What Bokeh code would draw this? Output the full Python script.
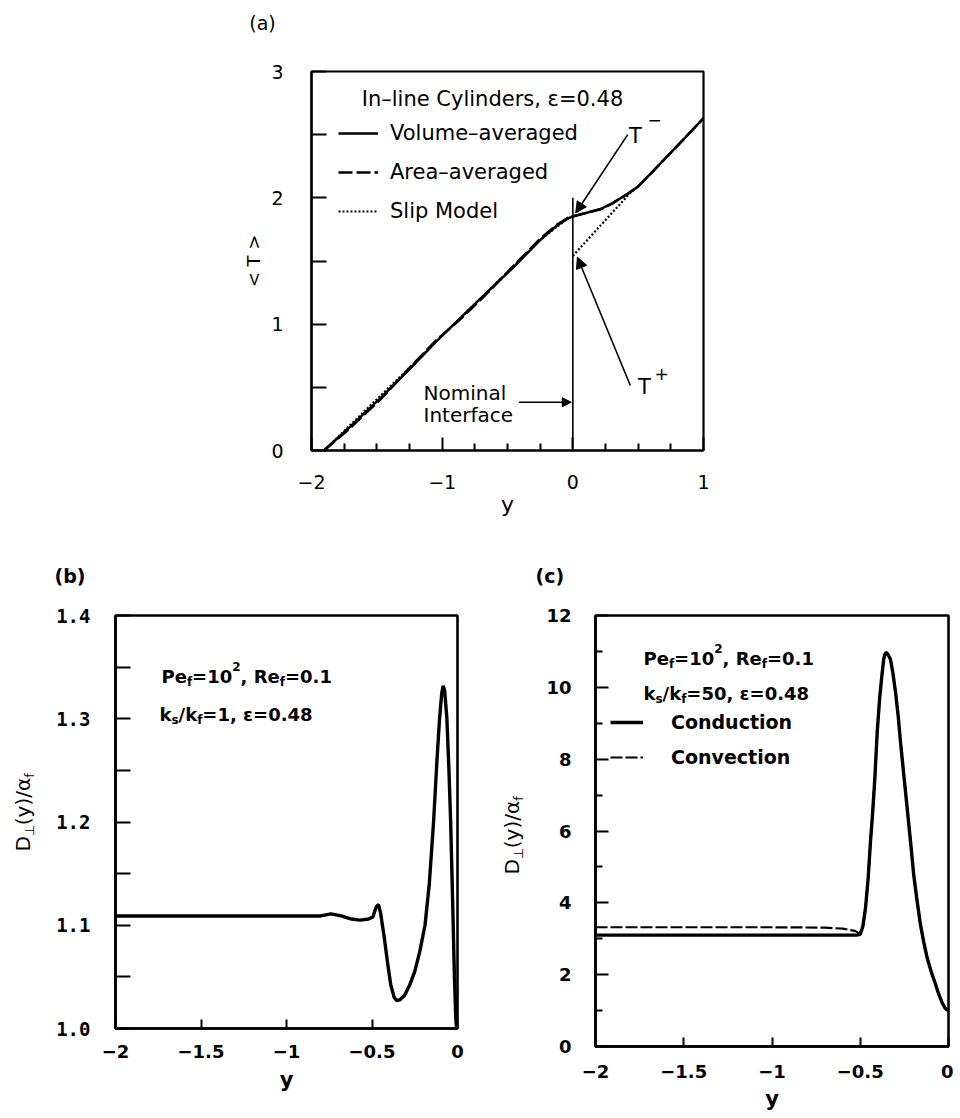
import math
from bokeh.plotting import figure
from bokeh.models import (Range1d, Label, Arrow, NormalHead, Legend, LegendItem,
                          FixedTicker, Spacer)
from bokeh.layouts import column, row
from bokeh.embed import file_html
from bokeh.resources import INLINE

# ---------------- data: panel (a) ----------------
a_y = [-1.905, -1.713, -1.467, -1.243, -1.048, -0.86, -0.679, -0.474, -0.245,
       -0.117, -0.04, 0.0, 0.1, 0.214, 0.3, 0.418, 0.5, 0.622, 0.826, 1.0]
a_volume_T = [0.0, 0.18, 0.42, 0.65, 0.86, 1.05, 1.23, 1.43, 1.67,
              1.785, 1.835, 1.853, 1.88, 1.913, 1.955, 2.03, 2.09, 2.22, 2.44, 2.63]
a_area_T = [0.0, 0.17, 0.41, 0.66, 0.87, 1.04, 1.22, 1.44, 1.68,
            1.79, 1.84, 1.853, 1.88, 1.91, 1.955, 2.03, 2.09, 2.22, 2.44, 2.63]
a_slip_porous_y = [-1.905, -1.048, -0.245, -0.04, 0.0]
a_slip_porous_T = [0.0, 0.86, 1.67, 1.835, 1.853]
a_slip_fluid_y = [0.0, 0.22, 0.44, 0.5, 0.622, 0.826, 1.0]
a_slip_fluid_T = [1.54, 1.79, 2.04, 2.09, 2.22, 2.44, 2.63]
a_interface_y = [0.0]
a_interface_T0 = [0.0]
a_interface_T1 = [2.0]
a_series = ["Volume–averaged", "Area–averaged", "Slip Model"]
a_x_ticks = [-2, -1, 0, 1]
a_x_tick_labels = ["−2", "−1", "0", "1"]
a_x_minor = [-1.75, -1.5, -1.25, -0.75, -0.5, -0.25, 0.25, 0.5, 0.75]
a_y_ticks = [0, 1, 2, 3]
a_y_tick_labels = ["0", "1", "2", "3"]
a_y_minor = [0.5, 1.5, 2.5]

# ---------------- data: panel (b) ----------------
b_y = [-2.0, -1.0, -0.80, -0.74, -0.68, -0.62, -0.57, -0.52, -0.495, -0.475,
       -0.462, -0.45, -0.43, -0.41, -0.39, -0.37, -0.355, -0.335, -0.31, -0.28,
       -0.25, -0.22, -0.19, -0.165, -0.14, -0.12, -0.105, -0.092, -0.084, -0.075,
       -0.062, -0.05, -0.04, -0.028, -0.018, -0.01, -0.005]
b_D = [1.109, 1.109, 1.109, 1.111, 1.109, 1.106, 1.105, 1.106, 1.108, 1.118,
       1.12, 1.112, 1.09, 1.065, 1.042, 1.03, 1.027, 1.028, 1.032, 1.042,
       1.055, 1.075, 1.10, 1.14, 1.20, 1.26, 1.30, 1.325, 1.332, 1.327,
       1.30, 1.25, 1.20, 1.12, 1.05, 1.01, 1.0]
b_x_ticks = [-2, -1.5, -1, -0.5, 0]
b_x_tick_labels = ["−2", "−1.5", "−1", "−0.5", "0"]
b_y_ticks = [1.0, 1.1, 1.2, 1.3, 1.4]
b_y_tick_labels = ["1.0", "1.1", "1.2", "1.3", "1.4"]
b_y_minor = [1.05, 1.15, 1.25, 1.35]

# ---------------- data: panel (c) ----------------
c_y = [-2.0, -1.0, -0.52, -0.50, -0.485, -0.47, -0.455, -0.442, -0.43, -0.418,
       -0.404, -0.39, -0.378, -0.367, -0.36, -0.353, -0.345, -0.337, -0.329,
       -0.315, -0.30, -0.285, -0.272, -0.253, -0.234, -0.215, -0.197, -0.178,
       -0.159, -0.14, -0.121, -0.098, -0.074, -0.055, -0.036, -0.02, -0.008, 0.0]
c_conduction = [3.1, 3.1, 3.1, 3.12, 3.35, 3.86, 4.7, 5.71, 6.5, 7.4,
                8.75, 9.7, 10.3, 10.79, 10.92, 10.97, 10.93, 10.86, 10.78,
                10.4, 9.86, 9.2, 8.48, 7.55, 6.63, 5.7, 4.78, 4.05,
                3.40, 2.9, 2.47, 2.08, 1.74, 1.45, 1.22, 1.07, 1.02, 1.01]
c_conv_y = [-2.0, -1.0, -0.7, -0.6, -0.53, -0.505, -0.485, -0.47, -0.455, -0.442,
            -0.43, -0.418, -0.404, -0.39, -0.378, -0.367, -0.36, -0.353, -0.345,
            -0.337, -0.329, -0.315, -0.30, -0.285, -0.272, -0.253, -0.234, -0.215,
            -0.197, -0.178, -0.159, -0.14, -0.121, -0.098, -0.074, -0.055, -0.036,
            -0.02, -0.008, 0.0]
c_convection = [3.32, 3.32, 3.31, 3.28, 3.22, 3.15, 3.35, 3.86, 4.7, 5.71,
                6.5, 7.4, 8.75, 9.7, 10.3, 10.79, 10.92, 10.97, 10.93,
                10.86, 10.78, 10.4, 9.86, 9.2, 8.48, 7.55, 6.63, 5.7,
                4.78, 4.05, 3.40, 2.9, 2.47, 2.08, 1.74, 1.45, 1.22,
                1.07, 1.02, 1.01]
c_series = ["Conduction", "Convection"]
c_x_ticks = [-2, -1.5, -1, -0.5, 0]
c_x_tick_labels = ["−2", "−1.5", "−1", "−0.5", "0"]
c_y_ticks = [0, 2, 4, 6, 8, 10, 12]
c_y_tick_labels = ["0", "2", "4", "6", "8", "10", "12"]
c_y_minor = [1, 3, 5, 7, 9, 11]

# ---------------- helpers ----------------
FONT = "DejaVu Sans"
MONO = "DejaVu Sans Mono"

W_REG = {' ': .318, ',': .318, '.': .318, '/': .337, '=': .838, '(': .390, ')': .390,
         'D': .770, 'P': .603, 'R': .695, 'e': .615, 'f': .352, 'k': .579, 's': .521,
         'y': .592, 'α': .659, '⊥': .838, 'ε': .541}
W_BOLD = {' ': .348, ',': .380, '.': .380, '/': .365, '=': .838, '(': .457, ')': .457,
          'D': .830, 'P': .733, 'R': .770, 'e': .678, 'f': .435, 'k': .665, 's': .595,
          'y': .652, 'α': .72, '⊥': .838, 'ε': .60}


def text_w(s, size, bold):
    tbl = W_BOLD if bold else W_REG
    dig = .696 if bold else .636
    return sum(dig if ch.isdigit() else tbl.get(ch, 0.62) for ch in s) * size


def lab(p, g, px, py, text, size, bold=False, align="center", baseline="middle",
        angle=0.0, font=FONT):
    # page pixel position -> screen offset from the frame's bottom-left corner
    sx = px - g["left"]
    sy = (g["top"] + g["h"]) - py
    p.add_layout(Label(x=sx, y=sy, x_units="screen", y_units="screen", text=text,
                       text_font=font, text_font_size=f"{size}px",
                       text_font_style="bold" if bold else "normal",
                       text_align=align, text_baseline=baseline, angle=angle,
                       text_color="black"))


def runs(p, g, items, px, py, bold, angle=0.0):
    # items: (text, size, shift)  shift > 0 means lower (subscript)
    for text, size, shift in items:
        if angle == 0.0:
            lab(p, g, px, py + shift, text, size, bold, "left", "alphabetic")
            px += text_w(text, size, bold)
        else:
            # rotated runs: anchor placed so the baseline lands at px + shift
            lab(p, g, px + shift - 0.35 * size, py, text, size, bold, "left",
                "alphabetic", angle)
            py -= text_w(text, size, bold)


def style_axes(p, lw=2.5):
    p.xgrid.visible = False
    p.ygrid.visible = False
    p.outline_line_color = "black"
    p.outline_line_width = lw
    p.outline_line_alpha = 1.0
    p.background_fill_color = "white"
    p.border_fill_color = "white"
    for ax in (p.xaxis[0], p.yaxis[0]):
        ax.axis_line_width = lw
        ax.axis_line_color = "black"
        ax.major_tick_line_width = 2
        ax.minor_tick_line_width = 2
        ax.major_tick_out = 0
        ax.minor_tick_out = 0
        ax.major_label_text_color = "black"
        ax.axis_label_text_color = "black"
        ax.axis_label_text_font = FONT
        ax.axis_label_text_font_style = "normal"


def panel_tag(p, text, offset, standoff):
    p.title.text = text
    p.title.align = "left"
    p.title.offset = offset
    p.title.standoff = standoff
    p.title.text_font = FONT
    p.title.text_font_size = "19px"
    p.title.text_font_style = "bold"
    p.title.text_color = "black"


def label_strip(width, height, top_border, bottom_border):
    f = figure(width=width, height=height, x_range=Range1d(0, 1), y_range=Range1d(0, 1),
               min_border=1, min_border_left=1, min_border_right=1,
               min_border_top=top_border, min_border_bottom=bottom_border,
               toolbar_location=None, output_backend="svg",
               x_axis_location=None, y_axis_location=None)
    f.outline_line_color = None
    f.background_fill_color = "white"
    f.border_fill_color = "white"
    f.xgrid.visible = False
    f.ygrid.visible = False
    return f


# ---------------- strip holding the tag (a) ----------------
sa = label_strip(100, 40, 1, 1)
GSA = dict(left=213, top=1, w=98, h=38)
lab(sa, GSA, 262, 22, "(a)", 19)

# ---------------- panel (a) ----------------
GA = dict(left=311, top=71, w=392, h=379)
pa = figure(width=563, height=490, x_range=Range1d(-2, 1), y_range=Range1d(0, 3),
            min_border_left=111, min_border_right=60, min_border_top=31,
            min_border_bottom=80, toolbar_location=None, output_backend="svg")
style_axes(pa, 2.2)
pa.xaxis.ticker = FixedTicker(ticks=a_x_ticks, minor_ticks=a_x_minor)
pa.xaxis.major_label_overrides = {float(t): s for t, s in zip(a_x_ticks, a_x_tick_labels)}
pa.xaxis.major_tick_in = 13
pa.xaxis.minor_tick_in = 7
pa.xaxis.major_label_standoff = 24
pa.yaxis.ticker = FixedTicker(ticks=a_y_ticks, minor_ticks=a_y_minor)
pa.yaxis.major_label_overrides = {float(t): s for t, s in zip(a_y_ticks, a_y_tick_labels)}
pa.yaxis.major_tick_in = 15
pa.yaxis.minor_tick_in = 15
pa.yaxis.major_label_standoff = 28
for ax in (pa.xaxis[0], pa.yaxis[0]):
    ax.major_label_text_font = FONT
    ax.major_label_text_font_size = "19px"
pa.xaxis.axis_label = "y"
pa.xaxis.axis_label_text_font_size = "22px"
pa.xaxis.axis_label_standoff = 0
pa.yaxis.axis_label = "< T >"
pa.yaxis.axis_label_text_font_size = "18px"
pa.yaxis.axis_label_standoff = 4

r_area = pa.line(a_y, a_area_T, line_color="black", line_width=2.6, line_dash="14 4")
r_vol = pa.line(a_y, a_volume_T, line_color="black", line_width=2.4)
pa.line(a_slip_porous_y, a_slip_porous_T, line_color="black", line_width=2, line_dash="2 2")
r_slip = pa.line(a_slip_fluid_y, a_slip_fluid_T, line_color="black", line_width=2.2,
                 line_dash="2 2")
pa.segment(x0=a_interface_y, y0=a_interface_T0, x1=a_interface_y, y1=a_interface_T1,
           line_color="black", line_width=1.6)

leg_a = Legend(items=[LegendItem(label=a_series[0], renderers=[r_vol]),
                      LegendItem(label=a_series[1], renderers=[r_area]),
                      LegendItem(label=a_series[2], renderers=[r_slip])],
               location=(27, 224), margin=0, padding=0, spacing=9,
               glyph_width=40, glyph_height=30, label_height=30,
               label_standoff=12, background_fill_alpha=0, border_line_alpha=0,
               label_text_font=FONT, label_text_font_size="21px",
               label_text_color="black")
pa.add_layout(leg_a)

lab(pa, GA, 492, 98, "In–line Cylinders, ε=0.48", 21)
lab(pa, GA, 423, 392, "Nominal", 20, align="left")
lab(pa, GA, 423, 414, "Interface", 20, align="left")
lab(pa, GA, 635, 135, "T", 21)
lab(pa, GA, 654, 119, "−", 17)
lab(pa, GA, 644, 386, "T", 21)
lab(pa, GA, 661, 373, "+", 17)

pa.add_layout(Arrow(end=NormalHead(size=11, fill_color="black", line_color="black"),
                    x_start=0.42, y_start=2.50, x_end=0.022, y_end=1.88,
                    line_color="black", line_width=1.6))
pa.add_layout(Arrow(end=NormalHead(size=11, fill_color="black", line_color="black"),
                    x_start=0.44, y_start=0.515, x_end=0.035, y_end=1.53,
                    line_color="black", line_width=1.6))
pa.add_layout(Arrow(end=NormalHead(size=9, fill_color="black", line_color="black"),
                    x_start=-0.413, y_start=0.382, x_end=-0.012, y_end=0.382,
                    line_color="black", line_width=1.6))

# ---------------- bottom row geometry ----------------
ROW_TOP = 530
FRAME_TOP = 615
TOP_BORDER = FRAME_TOP - ROW_TOP
BOTTOM_BORDER = 72
HB = TOP_BORDER + 413 + BOTTOM_BORDER
HC = TOP_BORDER + 431 + BOTTOM_BORDER

# strip holding the rotated y label of (b)  (page x 0..50)
sb = label_strip(50, HB, TOP_BORDER, BOTTOM_BORDER)
GSB = dict(left=1, top=FRAME_TOP, w=48, h=413)
runs(sb, GSB, [("D", 20, 0), ("⊥", 13, 5), ("(y)/α", 20, 0), ("f", 13, 5)],
     29, 851, False, angle=math.pi / 2)

# ---------------- panel (b) ----------------  (page x 50..470)
GB = dict(left=115, top=FRAME_TOP, w=342, h=413)
pb = figure(width=420, height=HB, x_range=Range1d(-2, 0), y_range=Range1d(1.0, 1.4),
            min_border_left=65, min_border_right=13, min_border_top=TOP_BORDER,
            min_border_bottom=BOTTOM_BORDER, toolbar_location=None, output_backend="svg")
style_axes(pb, 2.6)
pb.xaxis.ticker = FixedTicker(ticks=b_x_ticks, minor_ticks=[])
pb.xaxis.major_label_overrides = {float(t): s for t, s in zip(b_x_ticks, b_x_tick_labels)}
pb.xaxis.major_tick_in = 9
pb.xaxis.major_label_standoff = 16
pb.xaxis.major_label_text_font = FONT
pb.xaxis.major_label_text_font_style = "bold"
pb.xaxis.major_label_text_font_size = "18px"
pb.xaxis.axis_label = "y"
pb.xaxis.axis_label_text_font_size = "21px"
pb.xaxis.axis_label_text_font_style = "bold"
pb.xaxis.axis_label_standoff = 7
pb.yaxis.ticker = FixedTicker(ticks=b_y_ticks, minor_ticks=b_y_minor)
pb.yaxis.major_label_overrides = {float(t): s for t, s in zip(b_y_ticks, b_y_tick_labels)}
pb.yaxis.major_tick_in = 15
pb.yaxis.minor_tick_in = 15
pb.yaxis.major_label_standoff = 25
pb.yaxis.major_label_text_font = MONO
pb.yaxis.major_label_text_font_style = "bold"
pb.yaxis.major_label_text_font_size = "19px"
panel_tag(pb, "(b)", -61, 58)

pb.line(b_y, b_D, line_color="black", line_width=3.4)

runs(pb, GB, [("Pe", 18, 0), ("f", 12, 5), ("=10", 18, 0), ("2", 12, -10),
              (", Re", 18, 0), ("f", 12, 5), ("=0.1", 18, 0)], 161, 676, True)
runs(pb, GB, [("k", 18, 0), ("s", 12, 5), ("/k", 18, 0), ("f", 12, 5),
              ("=1, ε=0.48", 18, 0)], 159, 714, True)

# strip holding the rotated y label of (c)  (page x 470..535)
sc = label_strip(65, HC, TOP_BORDER, BOTTOM_BORDER)
GSC = dict(left=471, top=FRAME_TOP, w=63, h=431)
runs(sc, GSC, [("D", 20, 0), ("⊥", 13, 5), ("(y)/α", 20, 0), ("f", 13, 5)],
     518, 874, False, angle=math.pi / 2)

# ---------------- panel (c) ----------------  (page x 535..953)
GC = dict(left=595, top=FRAME_TOP, w=353, h=431)
pc = figure(width=418, height=HC, x_range=Range1d(-2, 0), y_range=Range1d(0, 12),
            min_border_left=60, min_border_right=5, min_border_top=TOP_BORDER,
            min_border_bottom=BOTTOM_BORDER, toolbar_location=None, output_backend="svg")
style_axes(pc, 2.6)
pc.xaxis.ticker = FixedTicker(ticks=c_x_ticks, minor_ticks=[])
pc.xaxis.major_label_overrides = {float(t): s for t, s in zip(c_x_ticks, c_x_tick_labels)}
pc.xaxis.major_tick_in = 9
pc.xaxis.major_label_standoff = 18
pc.xaxis.axis_label = "y"
pc.xaxis.axis_label_text_font_size = "21px"
pc.xaxis.axis_label_text_font_style = "bold"
pc.xaxis.axis_label_standoff = 6
pc.yaxis.ticker = FixedTicker(ticks=c_y_ticks, minor_ticks=c_y_minor)
pc.yaxis.major_label_overrides = {float(t): s for t, s in zip(c_y_ticks, c_y_tick_labels)}
pc.yaxis.major_tick_in = 13
pc.yaxis.minor_tick_in = 7
pc.yaxis.major_label_standoff = 24
for ax in (pc.xaxis[0], pc.yaxis[0]):
    ax.major_label_text_font = FONT
    ax.major_label_text_font_style = "bold"
    ax.major_label_text_font_size = "18px"
panel_tag(pc, "(c)", -60, 58)

r_conv = pc.line(c_conv_y, c_convection, line_color="black", line_width=2.2,
                 line_dash="12 3")
r_cond = pc.line(c_y, c_conduction, line_color="black", line_width=3.4)

leg_c = Legend(items=[LegendItem(label=c_series[0], renderers=[r_cond]),
                      LegendItem(label=c_series[1], renderers=[r_conv])],
               location=(15, 274), margin=0, padding=0, spacing=5,
               glyph_width=33, glyph_height=30, label_height=30,
               label_standoff=28, background_fill_alpha=0, border_line_alpha=0,
               label_text_font=FONT, label_text_font_style="bold",
               label_text_font_size="19px", label_text_color="black")
pc.add_layout(leg_c)

runs(pc, GC, [("Pe", 18, 0), ("f", 12, 5), ("=10", 18, 0), ("2", 12, -10),
              (", Re", 18, 0), ("f", 12, 5), ("=0.1", 18, 0)], 643, 658, True)
runs(pc, GC, [("k", 18, 0), ("s", 12, 5), ("/k", 18, 0), ("f", 12, 5),
              ("=50, ε=0.48", 18, 0)], 643, 693, True)

layout = column(row(Spacer(width=212, height=40), sa),
                row(Spacer(width=200, height=490), pa),
                row(sb, pb, sc, pc))
open("out.html", "w").write(file_html(layout, INLINE, "Temperature and dispersion profiles"))
